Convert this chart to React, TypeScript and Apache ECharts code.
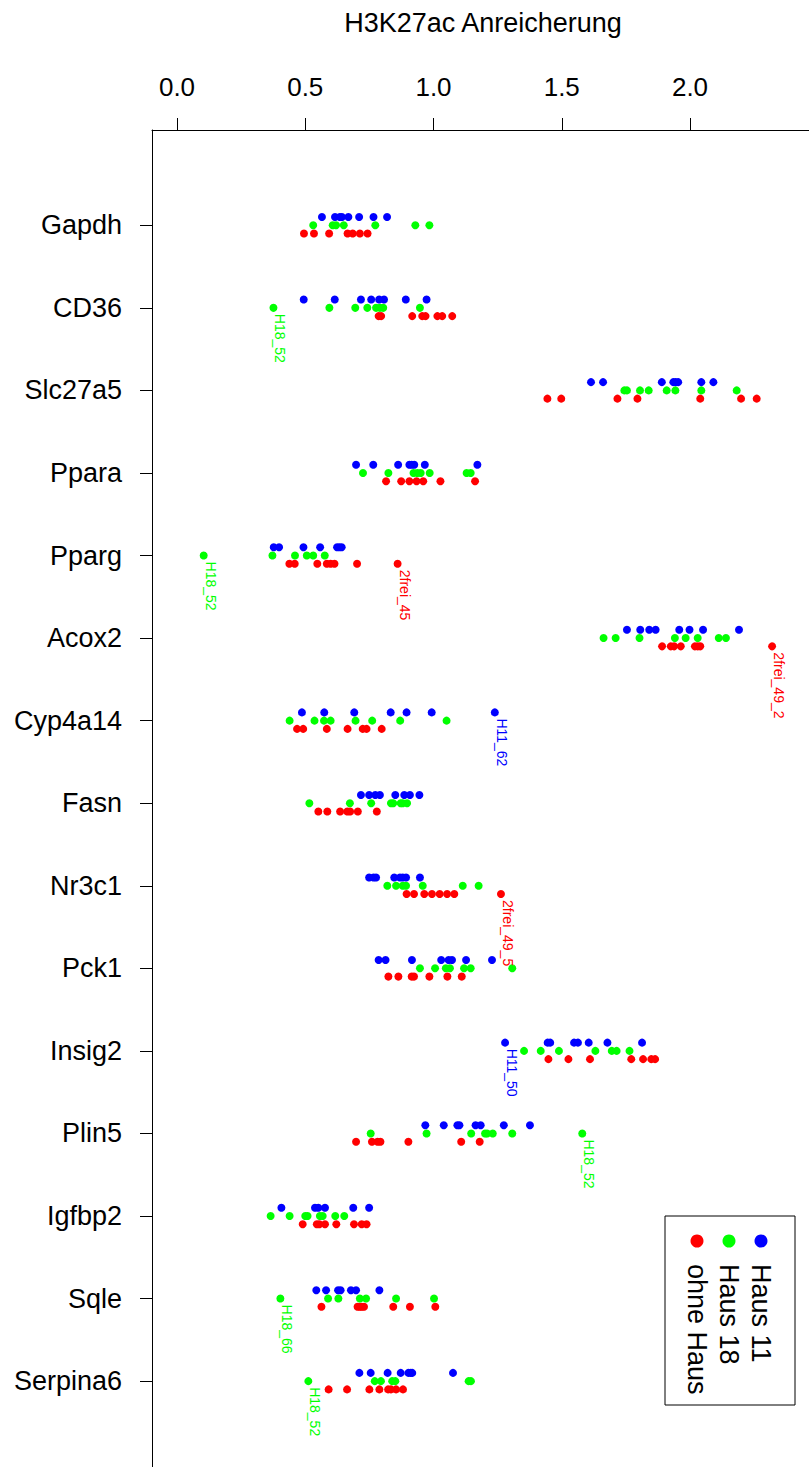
import React, { useEffect, useRef } from "react";
import * as echarts from "echarts";

// Genes, top to bottom
const genes = [
  "Gapdh", "CD36", "Slc27a5", "Ppara", "Pparg", "Acox2", "Cyp4a14", "Fasn",
  "Nr3c1", "Pck1", "Insig2", "Plin5", "Igfbp2", "Sqle", "Serpina6",
];

const xTicks = [0, 0.5, 1, 1.5, 2];

// H3K27ac enrichment per gene, one list per animal group
const haus11: number[][] = [
  [0.565, 0.616, 0.635, 0.643, 0.668, 0.71, 0.766, 0.819],
  [0.494, 0.615, 0.717, 0.757, 0.788, 0.807, 0.892, 0.973],
  [1.614, 1.661, 1.89, 1.935, 1.944, 1.954, 2.044, 2.091],
  [0.698, 0.765, 0.862, 0.906, 0.915, 0.925, 0.966, 1.171],
  [0.377, 0.398, 0.493, 0.558, 0.624, 0.633, 0.642],
  [1.754, 1.806, 1.841, 1.866, 1.958, 1.998, 2.051, 2.191],
  [0.487, 0.574, 0.691, 0.833, 0.895, 0.993, 1.239],
  [0.717, 0.749, 0.773, 0.791, 0.851, 0.886, 0.908, 0.945],
  [0.749, 0.766, 0.776, 0.847, 0.869, 0.88, 0.893, 0.947],
  [0.786, 0.813, 0.916, 1.03, 1.059, 1.072, 1.127, 1.228],
  [1.279, 1.445, 1.455, 1.548, 1.563, 1.605, 1.678, 1.813],
  [0.968, 1.04, 1.093, 1.101, 1.164, 1.184, 1.274, 1.376],
  [0.407, 0.538, 0.551, 0.577, 0.687, 0.749],
  [0.543, 0.581, 0.628, 0.638, 0.678, 0.698, 0.789],
  [0.711, 0.755, 0.821, 0.872, 0.902, 0.911, 0.917, 1.076],
];

const haus18: number[][] = [
  [0.531, 0.607, 0.62, 0.65, 0.773, 0.929, 0.984],
  [0.376, 0.594, 0.695, 0.742, 0.776, 0.791, 0.804, 0.947],
  [1.744, 1.754, 1.805, 1.839, 1.909, 1.943, 2.044, 2.182],
  [0.725, 0.824, 0.922, 0.937, 0.95, 0.985, 1.129, 1.145],
  [0.104, 0.372, 0.46, 0.506, 0.531, 0.576],
  [1.663, 1.71, 1.803, 1.941, 1.983, 2.03, 2.112, 2.14],
  [0.439, 0.536, 0.573, 0.599, 0.696, 0.761, 0.87, 1.051],
  [0.516, 0.674, 0.757, 0.834, 0.843, 0.872, 0.88, 0.897],
  [0.82, 0.854, 0.88, 0.893, 0.958, 1.114, 1.176],
  [0.947, 1.006, 1.048, 1.064, 1.119, 1.145, 1.307],
  [1.353, 1.418, 1.489, 1.631, 1.695, 1.714, 1.764],
  [0.755, 0.973, 1.147, 1.201, 1.209, 1.231, 1.307, 1.58],
  [0.365, 0.439, 0.5, 0.509, 0.557, 0.568, 0.617, 0.652],
  [0.403, 0.589, 0.629, 0.713, 0.737, 0.854, 1.002],
  [0.512, 0.771, 0.795, 0.839, 0.851, 1.137, 1.146],
];

const ohneHaus: number[][] = [
  [0.495, 0.534, 0.593, 0.665, 0.685, 0.713, 0.743],
  [0.786, 0.796, 0.917, 0.956, 0.969, 1.015, 1.034, 1.073],
  [1.444, 1.498, 1.717, 1.795, 2.04, 2.199, 2.26],
  [0.815, 0.874, 0.906, 0.934, 0.96, 1.027, 1.162],
  [0.438, 0.459, 0.547, 0.584, 0.599, 0.614, 0.702, 0.86],
  [1.891, 1.925, 1.938, 1.964, 2.019, 2.03, 2.04, 2.32],
  [0.468, 0.492, 0.584, 0.665, 0.724, 0.739, 0.798],
  [0.551, 0.586, 0.636, 0.664, 0.675, 0.705, 0.779],
  [0.895, 0.924, 0.964, 0.994, 1.024, 1.053, 1.081, 1.263],
  [0.824, 0.863, 0.915, 0.924, 0.984, 1.054, 1.11],
  [1.448, 1.526, 1.61, 1.771, 1.817, 1.849, 1.864],
  [0.698, 0.76, 0.782, 0.793, 0.902, 1.108, 1.18],
  [0.49, 0.545, 0.555, 0.577, 0.621, 0.69, 0.72, 0.739],
  [0.563, 0.704, 0.713, 0.72, 0.729, 0.843, 0.908, 1.007],
  [0.591, 0.663, 0.75, 0.789, 0.823, 0.834, 0.854, 0.881],
];

// Named outlying samples: group, gene, value, sample id
const outliers: { group: string; gene: string; value: number; id: string }[] = [
  { group: "Haus 18", gene: "CD36", value: 0.376, id: "H18_52" },
  { group: "Haus 18", gene: "Pparg", value: 0.104, id: "H18_52" },
  { group: "ohne Haus", gene: "Pparg", value: 0.86, id: "2frei_45" },
  { group: "ohne Haus", gene: "Acox2", value: 2.32, id: "2frei_49_2" },
  { group: "Haus 11", gene: "Cyp4a14", value: 1.239, id: "H11_62" },
  { group: "ohne Haus", gene: "Nr3c1", value: 1.263, id: "2frei_49_5" },
  { group: "Haus 11", gene: "Insig2", value: 1.279, id: "H11_50" },
  { group: "Haus 18", gene: "Plin5", value: 1.58, id: "H18_52" },
  { group: "Haus 18", gene: "Sqle", value: 0.403, id: "H18_66" },
  { group: "Haus 18", gene: "Serpina6", value: 0.512, id: "H18_52" },
];

const groups = [
  { name: "ohne Haus", color: "#FF0000", values: ohneHaus, shift: 0.1 },
  { name: "Haus 18", color: "#00FF00", values: haus18, shift: 0 },
  { name: "Haus 11", color: "#0000FF", values: haus11, shift: -0.1 },
];

const FONT = "Liberation Sans, Arial, Helvetica, sans-serif";

function buildSeries() {
  return groups.map((g) => {
    const data: any[] = [];
    g.values.forEach((vals, gi) => {
      vals.forEach((v) => {
        const hit = outliers.find(
          (o) => o.group === g.name && o.gene === genes[gi] && o.value === v
        );
        const item: any = { value: [v, gi + g.shift] };
        if (hit) {
          item.label = {
            show: true,
            formatter: hit.id,
            rotate: -90,
            position: [11, 10],
            align: "left",
            verticalAlign: "middle",
            color: g.color,
            fontSize: 14,
            fontFamily: FONT,
          };
        }
        data.push(item);
      });
    });
    return {
      type: "scatter",
      name: g.name,
      symbol: "circle",
      symbolSize: 8,
      itemStyle: { color: g.color, opacity: 1 },
      label: { show: false },
      emphasis: { disabled: true },
      data,
    };
  });
}

function buildLegend() {
  const x0 = 665;
  const y0 = 1216;
  const keys = [
    { name: "ohne Haus", color: "#FF0000", x: 697 },
    { name: "Haus 18", color: "#00FF00", x: 729 },
    { name: "Haus 11", color: "#0000FF", x: 761 },
  ];
  const children: any[] = [
    {
      type: "rect",
      shape: { x: x0, y: y0, width: 130, height: 189 },
      style: { fill: "#fff", stroke: "#000", lineWidth: 1 },
    },
  ];
  keys.forEach((k) => {
    children.push({
      type: "circle",
      shape: { cx: k.x, cy: 1241, r: 6.5 },
      style: { fill: k.color },
    });
    children.push({
      type: "text",
      x: k.x,
      y: 1264,
      rotation: -Math.PI / 2,
      style: {
        text: k.name,
        fill: "#000",
        font: `27px ${FONT}`,
        textAlign: "left",
        textVerticalAlign: "middle",
      },
    });
  });
  return { type: "group", children };
}

export default function App() {
  const ref = useRef<HTMLDivElement>(null);

  useEffect(() => {
    if (!ref.current) return;
    const chart = echarts.init(ref.current, null, { renderer: "svg" });
    chart.setOption({
      animation: false,
      backgroundColor: "#ffffff",
      grid: { left: 152, right: 0, top: 130, bottom: 0, containLabel: false },
      xAxis: {
        type: "value",
        position: "top",
        min: -0.0975,
        max: 2.4639,
        axisLine: { show: true, onZero: false, lineStyle: { color: "#000", width: 1 } },
        axisTick: {
          show: true,
          length: 12,
          customValues: xTicks,
          lineStyle: { color: "#000", width: 1 },
        },
        axisLabel: {
          show: true,
          customValues: xTicks,
          formatter: (v: number) => v.toFixed(1),
          color: "#000",
          fontSize: 26,
          fontFamily: FONT,
          margin: 30,
        },
        splitLine: { show: false },
      },
      yAxis: {
        type: "value",
        inverse: true,
        min: -1.154,
        max: 15.04,
        axisLine: { show: true, onZero: false, lineStyle: { color: "#000", width: 1 } },
        axisTick: {
          show: true,
          length: 12,
          customValues: genes.map((_, i) => i),
          lineStyle: { color: "#000", width: 1 },
        },
        axisLabel: {
          show: true,
          customValues: genes.map((_, i) => i),
          formatter: (v: number) => genes[Math.round(v)] ?? "",
          color: "#000",
          fontSize: 27,
          fontFamily: FONT,
          margin: 30,
        },
        splitLine: { show: false },
      },
      graphic: [
        {
          type: "text",
          x: 483,
          y: 23,
          style: {
            text: "H3K27ac Anreicherung",
            fill: "#000",
            font: `27px ${FONT}`,
            textAlign: "center",
            textVerticalAlign: "middle",
          },
        },
        buildLegend(),
      ],
      series: buildSeries(),
    });
    return () => chart.dispose();
  }, []);

  return (
    <div
      ref={ref}
      style={{ position: "absolute", left: 0, top: 0, width: 809, height: 1467, background: "#fff" }}
    />
  );
}
